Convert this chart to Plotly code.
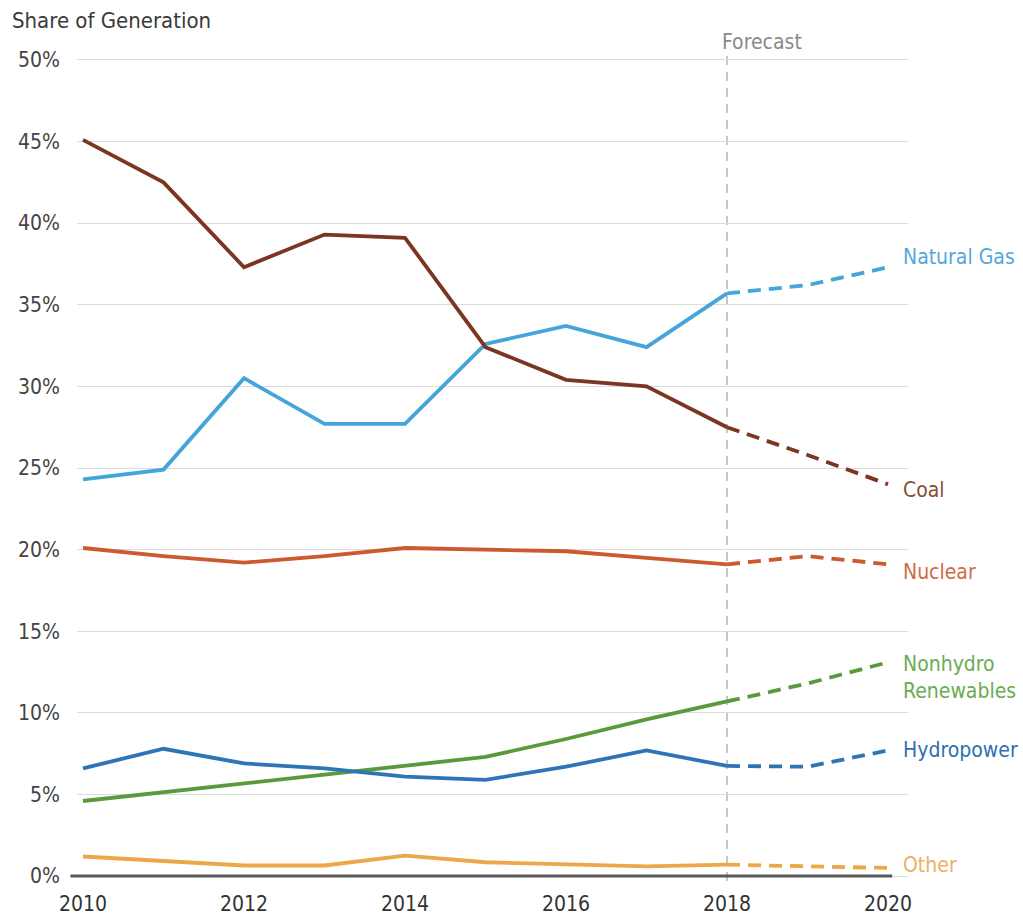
import plotly.graph_objects as go

# Share of US electricity generation by source, 2010-2020 (2019-2020 forecast)
years = [2010, 2011, 2012, 2013, 2014, 2015, 2016, 2017, 2018, 2019, 2020]
coal = [45.1, 42.5, 37.3, 39.3, 39.1, 32.4, 30.4, 30.0, 27.5, 25.8, 24.0]
natural_gas = [24.3, 24.9, 30.5, 27.7, 27.7, 32.6, 33.7, 32.4, 35.7, 36.2, 37.3]
nuclear = [20.1, 19.6, 19.2, 19.6, 20.1, 20.0, 19.9, 19.5, 19.1, 19.6, 19.1]
nonhydro_renewables = [4.6, 5.15, 5.7, 6.2, 6.8, 7.3, 8.4, 9.6, 10.7, 11.8, 13.1]
hydropower = [6.6, 7.8, 6.9, 6.6, 6.1, 5.9, 6.7, 7.7, 6.75, 6.7, 7.7]
other = [1.2, 0.9, 0.65, 0.65, 1.25, 0.85, 0.7, 0.6, 0.7, 0.6, 0.5]

forecast_start = 2018
y_ticks = [0, 5, 10, 15, 20, 25, 30, 35, 40, 45, 50]
x_ticks = [2010, 2012, 2014, 2016, 2018, 2020]

series = [
    # name, values, line colour, label colour, label y, label text
    ("Natural Gas", natural_gas, "#45a5db", "#54a8da", 37.9, "Natural Gas"),
    ("Coal", coal, "#7b3520", "#8b4c3a", 23.65, "Coal"),
    ("Nuclear", nuclear, "#cc5a2e", "#cf6b45", 18.6, "Nuclear"),
    ("Nonhydro Renewables", nonhydro_renewables, "#5b9a3c", "#6bab52", 12.15,
     "Nonhydro<br>Renewables"),
    ("Hydropower", hydropower, "#2e75b6", "#2f6fb0", 7.7, "Hydropower"),
    ("Other", other, "#eba748", "#edb063", 0.67, "Other"),
]

FONT = "DejaVu Sans Condensed, DejaVu Sans, sans-serif"

fig = go.Figure()
split = years.index(forecast_start)

for name, vals, color, _, _, _ in series:
    # historical part: solid
    fig.add_trace(go.Scatter(
        x=years[:split + 1], y=vals[:split + 1], mode="lines",
        line=dict(color=color, width=3.8), name=name, showlegend=False,
        hoverinfo="skip"))
    # forecast part: dashed
    fig.add_trace(go.Scatter(
        x=years[split:], y=vals[split:], mode="lines",
        line=dict(color=color, width=3.8, dash="13px,8px"), name=name,
        showlegend=False, hoverinfo="skip"))

annotations = []
for name, vals, _, label_color, label_y, text in series:
    annotations.append(dict(
        x=years[-1], y=label_y, xref="x", yref="y", text=text,
        showarrow=False, xanchor="left", yanchor="middle", align="left",
        xshift=13, font=dict(family=FONT, size=21, color=label_color)))

y_lo, y_hi = -0.3, 50.3
annotations.append(dict(
    x=forecast_start, y=1.016, xref="x", yref="paper", text="Forecast",
    showarrow=False, xanchor="left", yanchor="middle", xshift=-7,
    font=dict(family=FONT, size=21, color="#8a8a8a")))

shapes = [
    # forecast divider
    dict(type="line", xref="x", yref="paper", x0=forecast_start, x1=forecast_start,
         y0=0, y1=1.005, line=dict(color="#b5b5b5", width=1.5, dash="9px,7px"),
         layer="below"),
    # zero baseline
    dict(type="line", xref="paper", yref="paper",
         x0=-0.008, x1=0.981,
         y0=(0 - y_lo) / (y_hi - y_lo), y1=(0 - y_lo) / (y_hi - y_lo),
         line=dict(color="#5a5a5a", width=3), layer="above"),
]

fig.update_layout(
    width=1023, height=916,
    margin=dict(l=77, r=115, t=55, b=35),
    paper_bgcolor="white", plot_bgcolor="white",
    font=dict(family=FONT, size=21, color="#4d4d4d"),
    title=dict(text="Share of Generation", x=12 / 1023, xref="container",
               xanchor="left", y=1 - 20 / 916, yref="container", yanchor="middle",
               font=dict(family=FONT, size=22, color="#3a3a3a")),
    xaxis=dict(range=[2009.9255, 2020.248], tickvals=x_ticks,
               ticktext=[str(v) for v in x_ticks], showgrid=False,
               zeroline=False, showline=False, ticks="", ticklabelstandoff=8,
               automargin=False,
               tickfont=dict(family=FONT, size=21, color="#333333")),
    yaxis=dict(range=[y_lo, y_hi], tickvals=y_ticks,
               ticktext=[f"{v}%" for v in y_ticks], showgrid=True,
               gridcolor="#dcdcdc", gridwidth=1, zeroline=False,
               showline=False, ticks="", ticklabelstandoff=16,
               automargin=False,
               tickfont=dict(family=FONT, size=21, color="#444444")),
    annotations=annotations,
    shapes=shapes,
)

fig.write_html("out.html")
